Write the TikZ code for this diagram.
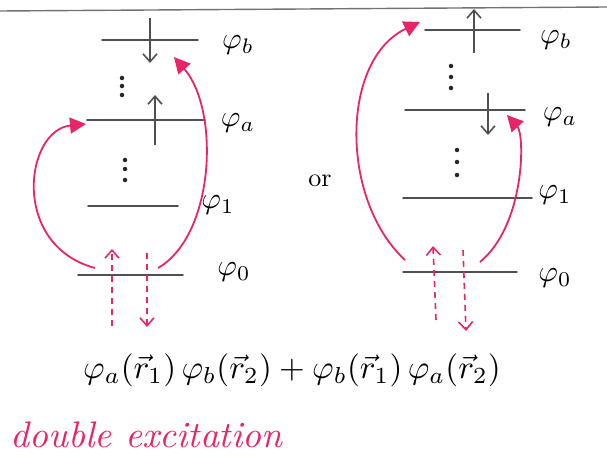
\documentclass[tikz,border=0pt]{standalone}
\usetikzlibrary{arrows.meta}
\definecolor{pinkc}{HTML}{E8246A}
\definecolor{levc}{HTML}{505050}
\begin{document}
\begin{tikzpicture}[x=1pt,y=-1pt,
  level/.style={draw=levc,line width=1.8pt,line cap=round},
  spin/.style={draw=levc,line width=1.6pt,-{Straight Barb[length=8pt,width=14pt]}},
  dspin/.style={draw=pinkc,line width=1.6pt,dashed,dash pattern=on 6pt off 5pt,-{Straight Barb[length=8pt,width=14pt]}},
  exc/.style={draw=pinkc,line width=1.8pt,-{Triangle[length=16pt,width=16pt]}},
  lab/.style={scale=3,inner sep=0pt},
  dot/.style={fill=black!85,circle,inner sep=0pt,minimum size=4.5pt}]
\useasboundingbox (0,0) rectangle (607,462);
\draw[draw=levc!80,line width=1.4pt] (0,11) coordinate (tl) -- (607,7) coordinate (tr);
% ---------- left diagram
\coordinate (Lb1) at (102,40); \coordinate (Lb2) at (198,40);
\coordinate (La1) at (87,120); \coordinate (La2) at (205,120);
\coordinate (L11) at (88,206); \coordinate (L12) at (178,206);
\coordinate (L01) at (78,275); \coordinate (L02) at (183,275);
\draw[level] (Lb1) -- (Lb2);
\draw[level] (La1) -- (La2);
\draw[level] (L11) -- (L12);
\draw[level] (L01) -- (L02);
\node[lab] (Lpb) at (238,45) {$\varphi_b$};
\node[lab] (Lpa) at (238,123) {$\varphi_a$};
\node[lab] (Lp1) at (218,205) {$\varphi_1$};
\node[lab] (Lp0) at (234,272) {$\varphi_0$};
\foreach \yy [count=\i] in {78,86,95} \node[dot] (Lda\i) at (122,\yy) {};
\foreach \yy [count=\i] in {160,169,180} \node[dot] (Ldb\i) at (125,\yy) {};
\coordinate (Lsd1) at (150,18); \coordinate (Lsd2) at (150,63);
\draw[spin] (Lsd1) -- (Lsd2);
\coordinate (Lsu1) at (155,145); \coordinate (Lsu2) at (155,95);
\draw[spin] (Lsu1) -- (Lsu2);
\coordinate (Ldu1) at (112,326); \coordinate (Ldu2) at (112,249);
\draw[dspin] (Ldu1) -- (Ldu2);
\coordinate (Ldd1) at (147,253); \coordinate (Ldd2) at (147,327);
\draw[dspin] (Ldd1) -- (Ldd2);
\coordinate (Le1s) at (95,268); \coordinate (Le1e) at (86,124);
\draw[exc] (Le1s) .. controls (10,245) and (25,130) .. (Le1e);
\coordinate (Le2s) at (158,268); \coordinate (Le2e) at (174,57);
\draw[exc] (Le2s) .. controls (215,235) and (220,110) .. (Le2e);
% ---------- or
\node[inner sep=0pt,scale=2.6] (or) at (320,181) {or};
% ---------- right diagram
\coordinate (Rb1) at (425,30); \coordinate (Rb2) at (520,30);
\coordinate (Ra1) at (405,110); \coordinate (Ra2) at (525,110);
\coordinate (R11) at (403,198); \coordinate (R12) at (532,198);
\coordinate (R01) at (403,272); \coordinate (R02) at (517,272);
\draw[level] (Rb1) -- (Rb2);
\draw[level] (Ra1) -- (Ra2);
\draw[level] (R11) -- (R12);
\draw[level] (R01) -- (R02);
\node[lab] (Rpb) at (556,40) {$\varphi_b$};
\node[lab] (Rpa) at (560,117) {$\varphi_a$};
\node[lab] (Rp1) at (555,195) {$\varphi_1$};
\node[lab] (Rp0) at (555,278) {$\varphi_0$};
\foreach \yy [count=\i] in {66,77,88} \node[dot] (Rda\i) at (451,\yy) {};
\foreach \yy [count=\i] in {150,162,175} \node[dot] (Rdb\i) at (457,\yy) {};
\coordinate (Rsu1) at (474,53); \coordinate (Rsu2) at (474,9);
\draw[spin] (Rsu1) -- (Rsu2);
\coordinate (Rsd1) at (488,93); \coordinate (Rsd2) at (488,135);
\draw[spin] (Rsd1) -- (Rsd2);
\coordinate (Rdu1) at (436,320); \coordinate (Rdu2) at (433,246);
\draw[dspin] (Rdu1) -- (Rdu2);
\coordinate (Rdd1) at (463,250); \coordinate (Rdd2) at (466,331);
\draw[dspin] (Rdd1) -- (Rdd2);
\coordinate (Re1s) at (405,260); \coordinate (Re1e) at (420,22);
\draw[exc] (Re1s) .. controls (340,200) and (340,60) .. (Re1e);
\coordinate (Re2s) at (480,262); \coordinate (Re2e) at (507,115);
\draw[exc] (Re2s) .. controls (525,225) and (525,135) .. (Re2e);
% ---------- formula
\node[inner sep=0pt,scale=3.3] (formula) at (292,370)
  {$\varphi_a(\vec r_1)\,\varphi_b(\vec r_2)+\varphi_b(\vec r_1)\,\varphi_a(\vec r_2)$};
\node[inner sep=0pt,anchor=west,text=pinkc,scale=3.7] (dex) at (10,435) {\itshape double excitation};
\end{tikzpicture}
\end{document}
